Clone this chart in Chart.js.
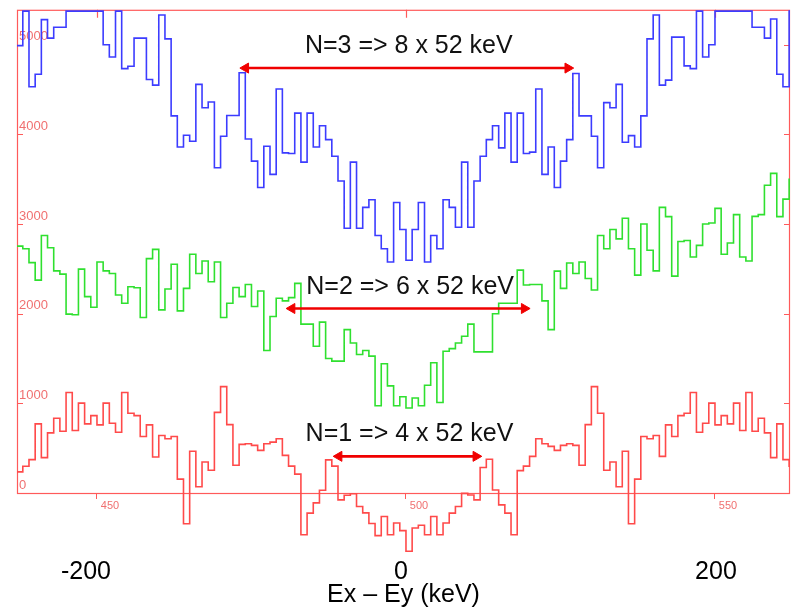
<!DOCTYPE html>
<html>
<head>
<meta charset="utf-8">
<title>Ex - Ey spectra</title>
<script src="https://cdn.jsdelivr.net/npm/chart.js@4.4.1/dist/chart.umd.min.js"></script>
<style>
  html, body { margin: 0; padding: 0; background: #ffffff; }
  #wrap { width: 799px; height: 608px; }
</style>
</head>
<body>
<div id="wrap"><canvas id="spectra" width="799" height="608"></canvas></div>
<script>
// Histogram bins: one channel per bin, starting at channel 437
const firstBin = 437;

// Counts per bin, N=3 (blue)
const countsN3 = [
  4990, 5375, 4532, 4671, 5280, 5074, 5196, 5196, 5375, 5375,
  5375, 5375, 5375, 5375, 5000, 4864, 5375, 4734, 4760, 5074,
  5074, 4613, 4550, 5332, 5066, 4207, 3860, 3990, 3923, 4558,
  4298, 4361, 3628, 3979, 4211, 4211, 4687, 3949, 3702, 3407,
  3868, 3554, 4506, 3794, 3787, 4237, 3691, 4237, 3860, 4096,
  3942, 3757, 3481, 2954, 3691, 2954, 3186, 3271, 2873, 2725,
  2577, 3241, 2939, 2596, 2939, 3241, 2577, 2873, 2725, 3271,
  3186, 2965, 3691, 2965, 3481, 3757, 3942, 4096, 3850, 4237,
  3691, 4237, 3787, 3802, 4506, 3554, 3860, 3407, 3702, 3942,
  4679, 4207, 4207, 3979, 3628, 4355, 4298, 4558, 3912, 3986,
  3860, 4207, 5066, 5332, 4550, 4605, 5085, 5085, 4765, 4734,
  5375, 4864, 5000, 5375, 5375, 5375, 5375, 5375, 5375, 5196,
  5196, 5074, 5288, 4671, 4532, 5375
];

// Counts per bin, N=2 (green)
const countsN2 = [
  2754, 2725, 2570, 2375, 2873, 2736, 2478, 2441, 1995, 1988,
  2497, 2190, 2072, 2577, 2478, 2448, 2209, 2116, 2301, 2290,
  1958, 2614, 2718, 2043, 2275, 2552, 2032, 2282, 2663, 2448,
  2588, 2356, 2577, 1958, 2116, 2293, 2190, 2326, 2080, 2253,
  1590, 1969, 2172, 2143, 2179, 2338, 1884, 1884, 1637, 1906,
  1501, 1471, 1471, 1822, 1674, 1545, 1589, 1527, 973, 1442,
  1195, 973, 1073, 948, 1059, 973, 1202, 1453, 1010, 1582,
  1611, 1674, 1748, 1884, 1574, 1574, 1574, 2000, 2116, 2116,
  2116, 2486, 2320, 2326, 2326, 2143, 1822, 2475, 2282, 2566,
  2448, 2577, 2392, 2264, 2873, 2725, 2939, 2835, 3064, 2725,
  2430, 3001, 2707, 2478, 3186, 3083, 2419, 2806, 2817, 2633,
  2762, 3001, 3012, 3175, 2663, 2788, 3105, 2633, 2588, 3086,
  3105, 3433, 3565, 3083, 3278, 3499
];

// Counts per bin, N=1 (red)
const countsN1 = [
  236, 299, 372, 771, 395, 671, 833, 689, 1121, 697,
  1003, 771, 863, 760, 1003, 778, 678, 1121, 889, 863,
  631, 760, 402, 642, 605, 631, 155, -343, 465, 70,
  346, 254, 899, 1187, 763, 310, 542, 549, 531, 476,
  549, 568, 605, 420, 300, 210, -465, -225, -110, 30,
  370, 300, -77, -25, -8, -150, -222, -340, -475, -262,
  -465, -335, -420, -649, -391, -360, -465, -262, -465, -335,
  -225, -151, -4, -22, -77, 284, 376, 33, -133, -225,
  -465, 250, 300, 409, 605, 549, 520, 476, 531, 549,
  531, 310, 763, 1187, 889, 254, 346, 70, 465, -343,
  155, 631, 605, 642, 409, 760, 631, 863, 889, 1121,
  678, 778, 1003, 760, 863, 771, 1003, 697, 1121, 689,
  833, 671, 395, 771, 372, 299
];

// Axis ticks
const channelTicks = [450, 500, 550];
const countTicks = [0, 1000, 2000, 3000, 4000, 5000];
const energyTicks = [-200, 0, 200];

// Double arrows with their captions (channel span, count level)
const arrowText = ['N=3 => 8 x 52 keV', 'N=2 => 6 x 52 keV', 'N=1 => 4 x 52 keV'];
const arrowFrom = [474.06, 481.55, 489.16];
const arrowTo = [526.2, 519.15, 511.33];
const arrowLevel = [4740, 2058, 409];

const FONT = "'Liberation Sans', Arial, Helvetica, sans-serif";
const frameRed = '#ff5a5a';
const labelRed = '#f07070';
const arrowRed = '#f00000';

// Turn per-bin counts into step points (left edge of each bin + closing edge)
function stepPoints(counts) {
  const pts = counts.map((c, i) => ({ x: firstBin + i, y: c }));
  pts.push({ x: firstBin + counts.length, y: counts[counts.length - 1] });
  return pts;
}

function histogram(counts, color) {
  return {
    data: stepPoints(counts),
    stepped: 'before',
    borderColor: color,
    borderWidth: 1.6,
    pointRadius: 0,
    fill: false,
    clip: { left: 0, top: 0, right: 0, bottom: false },
    order: 2
  };
}

function arrow(i) {
  return {
    data: [{ x: arrowFrom[i], y: arrowLevel[i] }, { x: arrowTo[i], y: arrowLevel[i] }],
    borderColor: arrowRed,
    backgroundColor: arrowRed,
    borderWidth: 2.6,
    pointStyle: 'triangle',
    pointRadius: 5.8,
    pointBorderWidth: 1,
    pointRotation: [-90, 90],
    fill: false,
    clip: false,
    order: 1
  };
}

// Red frame, inward tick marks, and arrow captions
const framePlugin = {
  id: 'frame',
  beforeDatasetsDraw(chart) {
    const { ctx, chartArea: a, scales } = chart;
    ctx.save();
    ctx.strokeStyle = frameRed;
    ctx.lineWidth = 1.2;
    ctx.strokeRect(a.left + 0.5, a.top + 0.5, a.right - a.left - 1, a.bottom - a.top);
    ctx.beginPath();
    countTicks.forEach(v => {
      const y = Math.round(scales.y.getPixelForValue(v)) + 0.5;
      ctx.moveTo(a.left, y); ctx.lineTo(a.left + 6, y);
      ctx.moveTo(a.right - 6, y); ctx.lineTo(a.right, y);
    });
    channelTicks.forEach(v => {
      const x = Math.round(scales.x.getPixelForValue(v)) + 0.5;
      ctx.moveTo(x, a.top); ctx.lineTo(x, a.top + 8);
    });
    ctx.stroke();
    ctx.restore();
  },
  afterDatasetsDraw(chart) {
    const { ctx, scales } = chart;
    ctx.save();
    ctx.fillStyle = '#111111';
    ctx.font = '25px ' + FONT;
    ctx.textAlign = 'center';
    ctx.textBaseline = 'alphabetic';
    arrowText.forEach((t, i) => {
      const x = scales.x.getPixelForValue((arrowFrom[i] + arrowTo[i]) / 2) + 2;
      const y = scales.y.getPixelForValue(arrowLevel[i]) - 15;
      ctx.fillText(t, x, y);
    });
    ctx.restore();
  }
};

new Chart(document.getElementById('spectra'), {
  type: 'line',
  data: {
    datasets: [
      histogram(countsN3, '#3c3cff'),
      histogram(countsN2, '#2fe02f'),
      histogram(countsN1, '#ff4a4a'),
      arrow(0), arrow(1), arrow(2)
    ]
  },
  options: {
    responsive: false,
    animation: false,
    devicePixelRatio: 1,
    layout: { padding: { top: 6, right: 9, left: 0, bottom: 0 } },
    plugins: { legend: { display: false }, tooltip: { enabled: false } },
    scales: {
      x: {
        type: 'linear',
        position: 'bottom',
        weight: 0,
        min: 437.06,
        max: 562.14,
        afterBuildTicks: s => { s.ticks = channelTicks.map(v => ({ value: v })); },
        afterFit: s => { s.height = 20; },
        grid: { display: true, drawOnChartArea: false, drawTicks: true, tickLength: 6, color: frameRed, lineWidth: 1 },
        border: { display: false },
        ticks: {
          font: { family: FONT, size: 11 },
          color: labelRed,
          padding: 0,
          labelOffset: 13,
          maxRotation: 0,
          autoSkip: false,
          callback: v => String(v)
        }
      },
      x2: {
        type: 'linear',
        position: 'bottom',
        weight: 1,
        min: -243.8,
        max: 247.0,
        afterBuildTicks: s => { s.ticks = energyTicks.map(v => ({ value: v })); },
        afterFit: s => { s.height = 95; },
        grid: { display: false },
        border: { display: false },
        ticks: {
          font: { family: FONT, size: 25 },
          color: '#000000',
          padding: 36,
          maxRotation: 0,
          autoSkip: false,
          callback: v => String(v)
        },
        title: {
          display: true,
          text: 'Ex – Ey (keV)',
          font: { family: FONT, size: 25, lineHeight: 1 },
          color: '#000000',
          padding: { top: 0, bottom: 0 }
        }
      },
      y: {
        type: 'linear',
        position: 'left',
        min: 0,
        max: 5390,
        afterBuildTicks: s => { s.ticks = countTicks.map(v => ({ value: v })); },
        afterFit: s => { s.width = 17; },
        grid: { display: false },
        border: { display: false },
        ticks: {
          mirror: true,
          padding: 2,
          labelOffset: -8,
          font: { family: FONT, size: 13 },
          color: labelRed,
          callback: v => String(v)
        }
      }
    }
  },
  plugins: [framePlugin]
});
</script>
</body>
</html>
